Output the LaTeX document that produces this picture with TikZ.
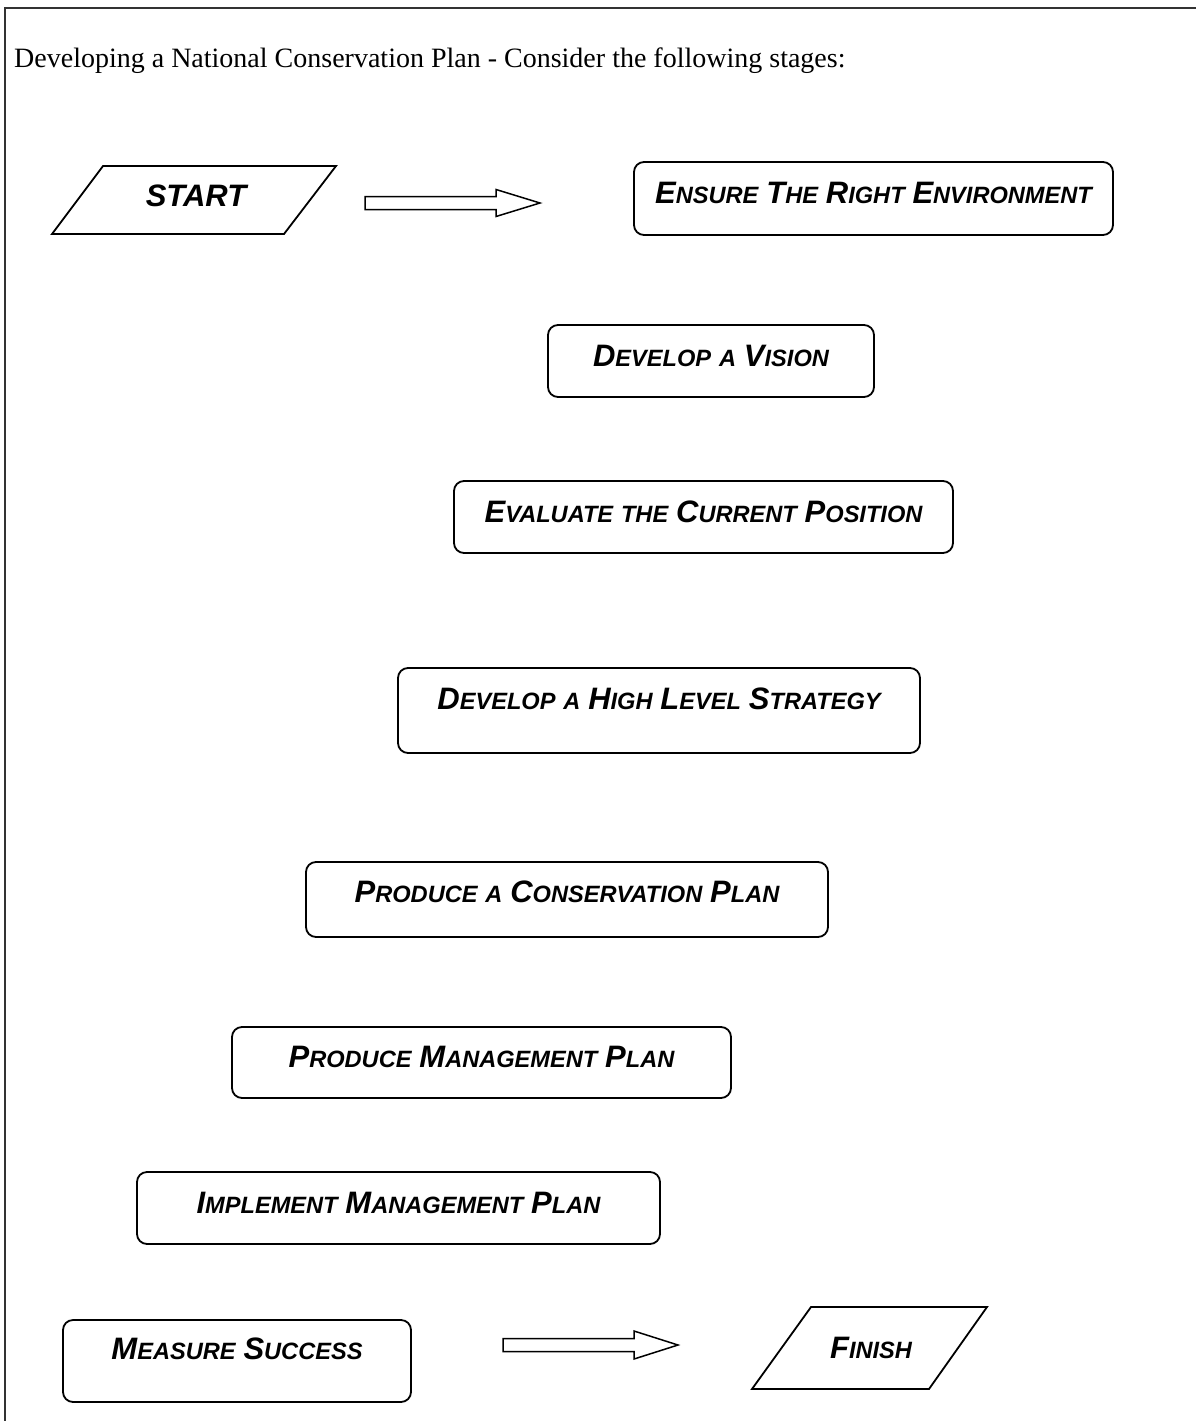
\documentclass[tikz,border=0pt]{standalone}
\usepackage{fontspec}
\setmainfont{Liberation Serif}
\newfontfamily\lblfont{Liberation Sans}
% fake small capitals: large initial, smaller remaining capitals
\newcommand\scBig[1]{{\fontsize{31}{32}\selectfont #1}}
\newcommand\scSm[1]{{\fontsize{23.6}{25}\selectfont #1}}
\newcommand\scw[2]{\scBig{#1}\scSm{#2}}
\begin{document}
\begin{tikzpicture}[x=1pt,y=-1pt,
  frame/.style={draw=black!80, line width=2pt},
  stage/.style={draw, line width=1.8pt, rounded corners=10pt, inner sep=0pt,
    align=center, font=\lblfont\bfseries\itshape\fontsize{23.6}{25}\selectfont},
  paratext/.style={inner sep=0pt, font=\lblfont\bfseries\itshape\fontsize{23.6}{25}\selectfont},
  para/.style={draw, line width=1.8pt, line join=miter},
  blockarrow/.style={draw, line width=1.5pt, fill=white, line join=miter},
  title/.style={inner sep=0pt, anchor=base west, font=\fontsize{28}{30}\selectfont}]
\useasboundingbox (0,0) rectangle (1196,1421);

% page frame (open at the right and bottom)
\draw[frame] (5,1421) -- (5,8) -- (1196,8);

\node[title] (heading) at (14,67) {Developing a National Conservation Plan - Consider the following stages:};

% start terminal
\node[paratext, font=\lblfont\bfseries\itshape\fontsize{31}{32}\selectfont, anchor=base] (start) at (196,206) {START};
\draw[para] (103,166) -- (336,166) -- (284,234) -- (52,234) -- cycle;

% arrow from start towards the first stage
\coordinate (arrA) at (365,203);
\draw[blockarrow] (arrA) ++(0,-6.5) -- ++(131,0) -- ++(0,-7) -- ++(44,13.5) -- ++(-44,13.5)
  -- ++(0,-7) -- ++(-131,0) -- cycle;

% stages (text width, box size, baseline offset from the top edge)
\node[stage, minimum width=479, minimum height=73, text width=470, text height=41, text depth=32]
  (ensure) at (873.5,198.5) {\scw{E}{NSURE} \scw{T}{HE} \scw{R}{IGHT} \scw{E}{NVIRONMENT}};
\node[stage, minimum width=326, minimum height=72, text width=320, text height=41, text depth=31]
  (vision) at (711,361) {\scw{D}{EVELOP} \scSm{A} \scw{V}{ISION}};
\node[stage, minimum width=499, minimum height=72, text width=490, text height=41, text depth=31]
  (evaluate) at (703.5,517) {\scw{E}{VALUATE} \scSm{THE} \scw{C}{URRENT} \scw{P}{OSITION}};
\node[stage, minimum width=522, minimum height=85, text width=510, text height=41, text depth=44]
  (strategy) at (659,710.5) {\scw{D}{EVELOP} \scSm{A} \scw{H}{IGH} \scw{L}{EVEL} \scw{S}{TRATEGY}};
\node[stage, minimum width=522, minimum height=75, text width=510, text height=40, text depth=35]
  (consplan) at (567,899.5) {\scw{P}{RODUCE} \scSm{A} \scw{C}{ONSERVATION} \scw{P}{LAN}};
\node[stage, minimum width=499, minimum height=71, text width=490, text height=40, text depth=31]
  (mgmtplan) at (481.5,1062.5) {\scw{P}{RODUCE} \scw{M}{ANAGEMENT} \scw{P}{LAN}};
\node[stage, minimum width=523, minimum height=72, text width=510, text height=41, text depth=31]
  (implement) at (398.5,1208) {\scw{I}{MPLEMENT} \scw{M}{ANAGEMENT} \scw{P}{LAN}};
\node[stage, minimum width=348, minimum height=82, text width=340, text height=39, text depth=43]
  (measure) at (237,1361) {\scw{M}{EASURE} \scw{S}{UCCESS}};

% arrow from the last stage towards finish
\coordinate (arrB) at (503,1345);
\draw[blockarrow] (arrB) ++(0,-6.5) -- ++(131,0) -- ++(0,-7.5) -- ++(44,14) -- ++(-44,14)
  -- ++(0,-7.5) -- ++(-131,0) -- cycle;

% finish terminal
\node[paratext, anchor=base] (finish) at (871,1358) {\scw{F}{INISH}};
\draw[para] (811,1307) -- (987,1307) -- (929,1389) -- (752,1389) -- cycle;
\end{tikzpicture}
\end{document}
